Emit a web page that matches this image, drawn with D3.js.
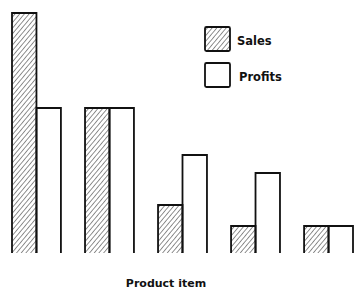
<!DOCTYPE html>
<html><head><meta charset="utf-8">
<script src="https://cdn.jsdelivr.net/npm/d3@7"></script>
<style>html,body{margin:0;padding:0;background:#fff;}svg{display:block;}</style>
</head><body>
<svg id="c" width="354" height="293"></svg>
<script>
const categories = ["A","B","C","D","E"];
const seriesNames = ["Sales","Profits"];
const sales = [24, 14.5, 4.8, 2.7, 2.7];
const profits = [14.5, 14.5, 9.8, 8.0, 2.7];
const xLabel = "Product item";

const svg = d3.select("#c");
const defs = svg.append("defs");
const pat = defs.append("pattern").attr("id","hatch").attr("patternUnits","userSpaceOnUse")
  .attr("width",3.6).attr("height",3.6).attr("patternTransform","rotate(40)");
pat.append("rect").attr("width",3.6).attr("height",3.6).attr("fill","#fff");
pat.append("line").attr("x1",0).attr("y1",0).attr("x2",0).attr("y2",3.6)
  .attr("stroke","#222").attr("stroke-width",1);

const x0 = d3.scaleBand().domain(categories).range([12,353]).paddingInner(0.33).paddingOuter(0);
const x1 = d3.scaleBand().domain(seriesNames).range([0,x0.bandwidth()]);
const y = d3.scaleLinear().domain([0,24]).range([253,13]);

const data = categories.map((c,i)=>({c, vals:[{k:"Sales",v:sales[i]},{k:"Profits",v:profits[i]}]}));
const g = svg.append("g");
const groups = g.selectAll("g").data(data).join("g").attr("transform",d=>`translate(${x0(d.c)},0)`);
groups.selectAll("rect").data(d=>d.vals).join("rect")
  .attr("x",d=>x1(d.k)).attr("y",d=>y(d.v))
  .attr("width",x1.bandwidth()).attr("height",d=>y(0)-y(d.v))
  .attr("fill",d=>d.k==="Sales"?"url(#hatch)":"#fff");
groups.selectAll("path").data(d=>d.vals).join("path")
  .attr("d",d=>{const a=x1(d.k), b=a+x1.bandwidth(), t=y(d.v), z=y(0);
    return `M${a},${z}V${t}H${b}V${z}`;})
  .attr("fill","none").attr("stroke","#111").attr("stroke-width",1.8).attr("stroke-linejoin","miter");

const leg = svg.append("g");
const items = [{k:"Sales",fill:"url(#hatch)",y:27},{k:"Profits",fill:"#fff",y:63}];
leg.selectAll("rect").data(items).join("rect")
  .attr("x",205).attr("y",d=>d.y).attr("width",25).attr("height",24).attr("rx",1.5)
  .attr("fill",d=>d.fill).attr("stroke","#111").attr("stroke-width",1.8);
leg.selectAll("text").data(items).join("text")
  .attr("x",(d,i)=>i===0?237:239).attr("y",d=>d.y+18)
  .attr("font-family","'DejaVu Sans', sans-serif").attr("font-size",11.5).attr("font-weight","bold")
  .attr("fill","#111").text(d=>d.k);

svg.append("text").attr("x",166).attr("y",287).attr("text-anchor","middle")
  .attr("font-family","'DejaVu Sans', sans-serif").attr("font-size",11).attr("font-weight","bold")
  .attr("fill","#111").text(xLabel);
</script>
</body></html>
